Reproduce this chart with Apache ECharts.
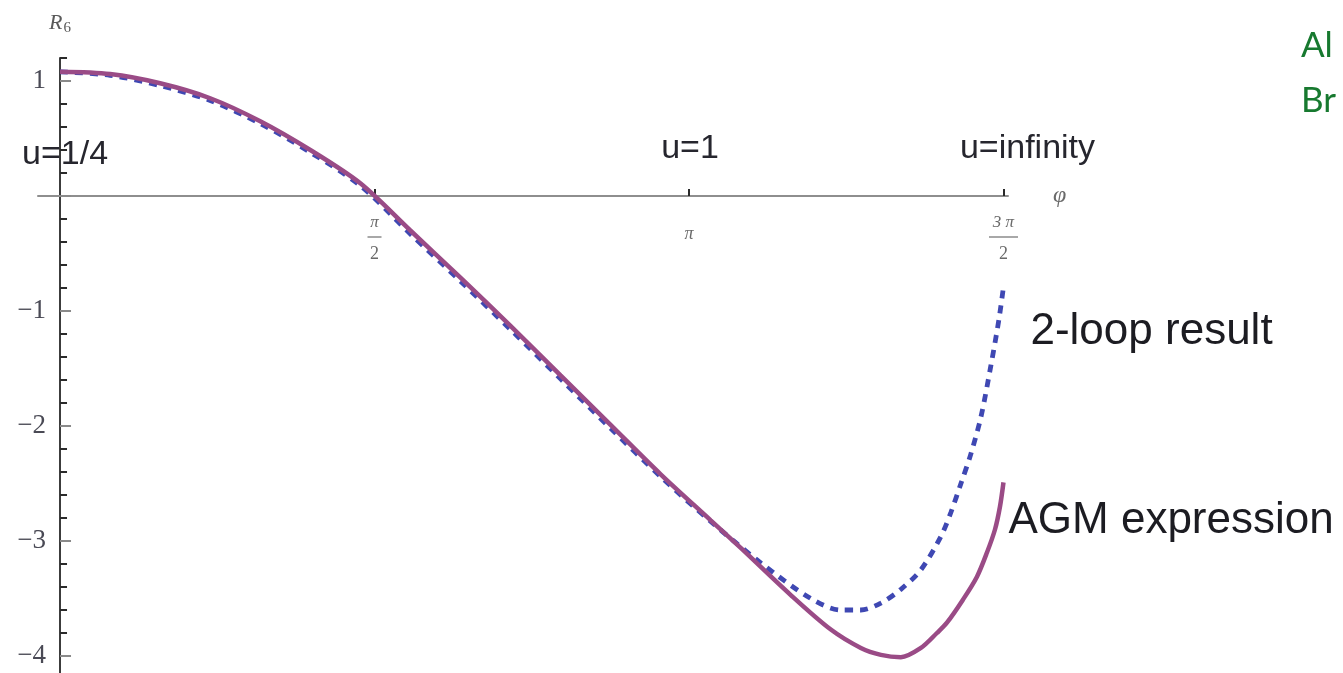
<!DOCTYPE html>
<html>
<head>
<meta charset="utf-8">
<title>R6 remainder function: 2-loop result vs AGM expression</title>
<script src="https://cdn.jsdelivr.net/npm/echarts@6/dist/echarts.min.js"></script>
<style>
  html, body { margin: 0; padding: 0; background: #ffffff; }
  #chart { width: 1343px; height: 673px; }
</style>
</head>
<body>
<div id="chart"></div>
<script>
// Remainder function R6 along the phase phi (radians)
const phiAgm = [0, 0.25, 0.5, 0.75, 1.0, 1.25, 1.5, 1.75, 2.0, 2.25, 2.5, 2.75, 3.0, 3.25,
                3.4, 3.65, 3.85, 4.0, 4.1, 4.2, 4.3, 4.38, 4.43, 4.51, 4.58, 4.63, 4.67, 4.695, 4.7124];
const agmValues = [1.08, 1.06, 0.98, 0.85, 0.65, 0.40, 0.11, -0.30, -0.71, -1.13, -1.56, -1.99, -2.42, -2.82,
                   -3.06, -3.47, -3.77, -3.93, -3.99, -4.01, -3.93, -3.80, -3.71, -3.51, -3.31, -3.10, -2.90, -2.70, -2.49];

const phiLoop = [0, 0.25, 0.5, 0.75, 1.0, 1.25, 1.5, 1.75, 2.0, 2.25, 2.5, 2.75, 3.0, 3.25,
                 3.5, 3.75, 3.9, 4.0, 4.1, 4.2, 4.3, 4.4, 4.45, 4.5, 4.55, 4.6, 4.65, 4.69, 4.7124];
const loopValues = [1.08, 1.05, 0.96, 0.83, 0.63, 0.38, 0.09, -0.33, -0.74, -1.16, -1.59, -2.02, -2.44, -2.83,
                    -3.19, -3.50, -3.60, -3.60, -3.54, -3.42, -3.25, -2.96, -2.75, -2.50, -2.24, -1.92, -1.47, -1.07, -0.79];

// phi ticks and their fraction labels [numerator, denominator]
const xTicks = [Math.PI / 2, Math.PI, 3 * Math.PI / 2];
const xTickLabels = [['π', '2'], ['π', ''], ['3 π', '2']];

// R6 ticks: labelled integers and the finer steps between them
const yMajorTicks = [-4, -3, -2, -1, 0, 1];

// kinematic points u along the phi axis
const uLabels = ['u=1/4', 'u=1', 'u=infinity'];
const uPhi = [0, Math.PI, 3 * Math.PI / 2];

const seriesNames = ['2-loop result', 'AGM expression'];
const sideNotes = ['Al', 'Br'];

const SANS = "'Liberation Sans', Arial, sans-serif";
const SERIF = "'Liberation Serif', 'Times New Roman', serif";

// plot frame: phi from -0.11 to 4.735, R6 from -4.2 to 1.2
const X_MIN = -0.11, X_MAX = 4.735, Y_MIN = -4.2, Y_MAX = 1.2;
const GRID = { left: 38, right: 335, top: 58, bottom: -6 };
const W = 1343, H = 673;
const plotW = W - GRID.left - GRID.right;
const plotH = H - GRID.top - GRID.bottom;
// shift the axes so they cross at the origin
const yZeroFromBottom = (0 - Y_MIN) / (Y_MAX - Y_MIN) * plotH;
const xZeroFromLeft = (0 - X_MIN) / (X_MAX - X_MIN) * plotW;

const chart = echarts.init(document.getElementById('chart'), null, { renderer: 'canvas' });

function xLabel(v) {
  for (let i = 0; i < xTicks.length; i++) {
    if (Math.abs(v - xTicks[i]) < 1e-6) {
      const [num, den] = xTickLabels[i];
      if (!den) return '{p|' + num + '}';
      return '{n|' + num + '}\n{' + (num.length > 1 ? 'bw' : 'bn') + '| }\n{d|' + den + '}';
    }
  }
  return '';
}

function yLabel(v) {
  const r = Math.round(v);
  if (Math.abs(v - r) > 1e-6 || r === 0) return '';
  return r < 0 ? '\u2212' + (-r) : String(r);
}

const toPairs = (xs, ys) => xs.map((x, i) => [x, ys[i]]);

chart.setOption({
  animation: false,
  backgroundColor: '#ffffff',
  grid: Object.assign({ outerBoundsMode: 'none', containLabel: false }, GRID),
  xAxis: {
    type: 'value',
    min: X_MIN,
    max: X_MAX,
    offset: -yZeroFromBottom,
    splitLine: { show: false },
    axisLine: { show: true, onZero: false, lineStyle: { color: '#8e8e8e', width: 2 } },
    axisTick: { show: true, inside: true, length: 7, customValues: xTicks,
                lineStyle: { color: '#2a2a2a', width: 2 } },
    axisLabel: {
      customValues: xTicks,
      margin: 18,
      formatter: xLabel,
      rich: {
        n: { fontFamily: SERIF, fontStyle: 'italic', fontSize: 17, color: '#6a6a6a', lineHeight: 17, align: 'center' },
        d: { fontFamily: SERIF, fontSize: 18, color: '#6a6a6a', lineHeight: 22, align: 'center' },
        p: { fontFamily: SERIF, fontStyle: 'italic', fontSize: 18, color: '#6a6a6a', lineHeight: 40, align: 'center' },
        bn: { width: 14, height: 2, lineHeight: 12, backgroundColor: '#a8a8a8', verticalAlign: 'middle', align: 'center' },
        bw: { width: 29, height: 2, lineHeight: 12, backgroundColor: '#a8a8a8', verticalAlign: 'middle', align: 'center' }
      }
    },
    name: 'φ',
    nameLocation: 'end',
    nameGap: 45,
    nameTextStyle: { fontFamily: SERIF, fontStyle: 'italic', fontSize: 24, color: '#6a6a6a',
                     verticalAlign: 'middle', padding: [10, 0, 0, 0] }
  },
  yAxis: [
    {
      type: 'value',
      position: 'left',
      min: Y_MIN,
      max: Y_MAX,
      interval: 0.2,
      offset: -xZeroFromLeft,
      splitLine: { show: false },
      axisLine: { show: true, onZero: false, lineStyle: { color: '#3c3c3c', width: 2 } },
      axisTick: { show: true, inside: true, length: 7, lineStyle: { color: '#2a2a2a', width: 2 } },
      axisLabel: { margin: 14, formatter: yLabel, fontFamily: SERIF, fontSize: 27, color: '#4a4a55' },
      name: '{r|R}{s|6}',
      nameLocation: 'end',
      nameGap: 22,
      nameTextStyle: {
        rich: {
          r: { fontFamily: SERIF, fontStyle: 'italic', fontSize: 22, color: '#5a5a5a' },
          s: { fontFamily: SERIF, fontSize: 15, color: '#5a5a5a', padding: [10, 0, 0, 1] }
        }
      }
    },
    {
      // longer ticks at the integers
      type: 'value',
      position: 'left',
      min: Y_MIN,
      max: Y_MAX,
      offset: -xZeroFromLeft,
      splitLine: { show: false },
      axisLine: { show: false },
      axisLabel: { show: false },
      axisTick: { show: true, inside: true, length: 11, customValues: yMajorTicks,
                  lineStyle: { color: '#8a8a8a', width: 2 } }
    }
  ],
  series: [
    {
      name: seriesNames[0],
      type: 'line',
      data: toPairs(phiLoop, loopValues),
      smooth: 0.3,
      showSymbol: false,
      symbol: 'none',
      clip: false,
      z: 2,
      lineStyle: { color: '#3f48b3', width: 4.8, type: [8, 7], cap: 'butt' },
      endLabel: {
        show: true,
        formatter: seriesNames[0],
        distance: 5,
        offset: [22, 45],
        fontFamily: SANS,
        fontSize: 44,
        color: '#1c1c22'
      }
    },
    {
      name: seriesNames[1],
      type: 'line',
      data: toPairs(phiAgm, agmValues),
      smooth: 0.3,
      showSymbol: false,
      symbol: 'none',
      clip: false,
      z: 3,
      lineStyle: { color: '#9a4b86', width: 4.5 },
      endLabel: {
        show: true,
        formatter: seriesNames[1],
        distance: 5,
        offset: [0, 39],
        fontFamily: SANS,
        fontSize: 44,
        color: '#1c1c22'
      }
    }
  ]
});

// u markers above the phi axis, placed from the axis scale
const uOffsets = [[-38, -41, 'left'], [1, -47, 'center'], [24, -47, 'center']];
const uGraphics = uLabels.map((t, i) => {
  const p = chart.convertToPixel({ gridIndex: 0 }, [uPhi[i], 0]);
  return {
    type: 'text',
    x: p[0] + uOffsets[i][0],
    y: p[1] + uOffsets[i][1],
    z: 10,
    style: {
      text: t,
      font: "34px 'Liberation Sans', Arial, sans-serif",
      fill: '#26262e',
      align: uOffsets[i][2],
      verticalAlign: 'middle'
    }
  };
});

const noteGraphics = sideNotes.map((t, i) => ({
  type: 'text',
  x: 1301,
  y: 46 + i * 55,
  z: 10,
  style: {
    text: t,
    font: "35px Lato, 'Open Sans', sans-serif",
    fill: '#17792f',
    align: 'left',
    verticalAlign: 'middle'
  }
}));

chart.setOption({ graphic: uGraphics.concat(noteGraphics) });
</script>
</body>
</html>
